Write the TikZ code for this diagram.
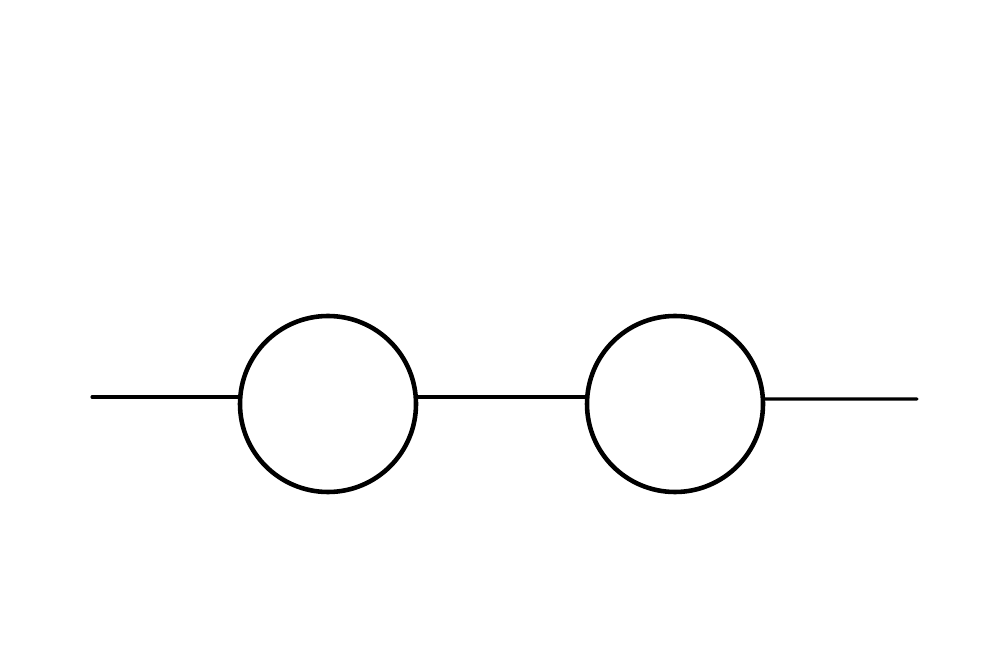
\documentclass[tikz,border=0pt]{standalone}
\usepackage{tikz}
\usetikzlibrary{positioning}

\tikzset{
    ring/.style={draw, circle, line width=1.3pt, minimum size=1.76cm, inner sep=0pt},
    wire/.style={line width=0.9pt, line cap=round}
}

\begin{document}
\begin{tikzpicture}
\useasboundingbox (0, 0) rectangle (10, 6.7);
    \node[ring] (leftring) at (3.28, 2.66) {};
    \node[ring] (rightring) at (6.75, 2.66) {};
    \coordinate (leftend) at (0.92, 2.73);
    \coordinate (rightend) at (9.17, 2.71);
    \draw[wire] (leftend) -- (leftend -| leftring.west);
    \draw[wire] ([yshift=0.07cm]leftring.east) -- ([yshift=0.07cm]rightring.west);
    \draw[wire] ([yshift=0.05cm]rightring.east) -- (rightend);
\end{tikzpicture}
\end{document}
